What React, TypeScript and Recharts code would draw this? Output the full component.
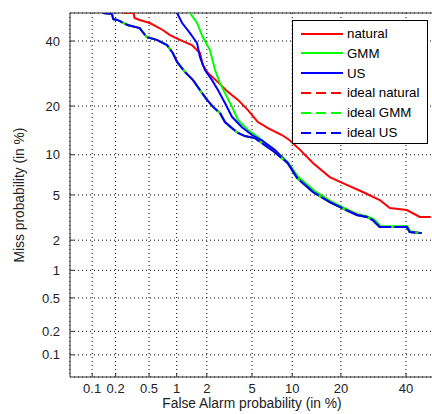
import { LineChart, Line, XAxis, YAxis, CartesianGrid, Legend, ReferenceLine } from 'recharts';

// tick positions (in %) on both axes
const tickPercents = [0.1, 0.2, 0.5, 1, 2, 5, 10, 20, 40];

// natural
const naturalFa = [0.25, 0.33, 0.34, 0.39, 0.51, 0.71, 0.85, 1.08, 1.43, 1.72, 1.83, 2.05, 2.54, 3.12, 3.82, 4.63, 5.57, 6.67, 8.46, 9.6, 11.3, 13.7, 17.3, 20.5, 26.0, 31.2, 34.5, 40.3, 44.9, 48.8];
const naturalMiss = [50, 50, 48.2, 47.5, 46.4, 43.9, 42.1, 40.4, 38.6, 35.9, 31.9, 29.4, 26.6, 23.8, 21.6, 19.0, 16.2, 14.9, 13.5, 12.5, 10.8, 8.75, 6.9, 6.2, 5.28, 4.54, 3.9, 3.74, 3.26, 3.26];

// GMM
const gmmFa = [1.37, 1.61, 1.83, 2.14, 2.39, 2.65, 2.94, 3.39, 3.82, 4.63, 5.57, 6.67, 7.9, 9.3, 11.0, 14.0, 17.5, 20.5, 24.5, 27.5, 29.5, 31.5, 40.5, 41.5, 45.6];
const gmmMiss = [50, 46.4, 41.4, 36.9, 30.3, 26.3, 23.5, 19.8, 16.7, 14.5, 13.1, 11.6, 10.3, 8.9, 6.9, 5.4, 4.45, 3.95, 3.45, 3.3, 3.1, 2.7, 2.7, 2.42, 2.33];

// US
const usFa = [1.01, 1.14, 1.37, 1.61, 1.72, 1.92, 2.24, 2.54, 2.94, 3.39, 4.13, 4.99, 5.98, 7.5, 9.3, 10.8, 13.7, 17.3, 20.2, 24.3, 27.2, 29.0, 31.2, 40.3, 41.3, 45.6];
const usMiss = [50, 46.4, 42.8, 39.3, 34.5, 30.3, 27.2, 24.3, 20.8, 17.4, 15.1, 13.5, 12.5, 10.8, 8.75, 6.79, 5.28, 4.37, 3.9, 3.39, 3.26, 3.06, 2.65, 2.65, 2.39, 2.33];

// ideal (natural / GMM / US lie on top of each other)
const idealFa = [0.139, 0.18, 0.187, 0.21, 0.28, 0.39, 0.47, 0.61, 0.79, 0.91, 1.01, 1.22, 1.47, 1.72, 2.01, 2.29, 2.65, 2.94, 3.39, 3.82, 4.37, 5.27, 5.98, 7.5, 9.3, 10.8, 13.7, 17.3, 20.2, 24.3, 27.2, 29.0, 31.2, 40.3, 41.3, 45.6];
const idealMiss = [50, 49.6, 47.8, 47.5, 45.7, 44.6, 41.4, 40.4, 38.6, 35.9, 32.9, 29.7, 27.2, 24.3, 21.6, 19.8, 18.3, 16.2, 14.9, 13.9, 13.3, 12.9, 12.0, 10.4, 8.75, 6.79, 5.28, 4.37, 3.9, 3.39, 3.26, 3.06, 2.65, 2.65, 2.39, 2.33];

// inverse normal CDF (Acklam) -> DET axes use normal deviate scale
function probit(p: number): number {
  const a = [-3.969683028665376e1, 2.209460984245205e2, -2.759285104469687e2, 1.38357751867269e2, -3.066479806614716e1, 2.506628277459239];
  const b = [-5.447609879822406e1, 1.615858368580409e2, -1.556989798598866e2, 6.680131188771972e1, -1.328068155288572e1];
  const c = [-7.784894002430293e-3, -3.223964580411365e-1, -2.400758277161838, -2.549732539343734, 4.374664141464968, 2.938163982698783];
  const d = [7.784695709041462e-3, 3.224671290700398e-1, 2.445134137142996, 3.754408661907416];
  const pl = 0.02425;
  if (p < pl) {
    const q = Math.sqrt(-2 * Math.log(p));
    return (((((c[0] * q + c[1]) * q + c[2]) * q + c[3]) * q + c[4]) * q + c[5]) / ((((d[0] * q + d[1]) * q + d[2]) * q + d[3]) * q + 1);
  }
  if (p <= 1 - pl) {
    const q = p - 0.5;
    const r = q * q;
    return ((((((a[0] * r + a[1]) * r + a[2]) * r + a[3]) * r + a[4]) * r + a[5]) * q) / (((((b[0] * r + b[1]) * r + b[2]) * r + b[3]) * r + b[4]) * r + 1);
  }
  const q = Math.sqrt(-2 * Math.log(1 - p));
  return -(((((c[0] * q + c[1]) * q + c[2]) * q + c[3]) * q + c[4]) * q + c[5]) / ((((d[0] * q + d[1]) * q + d[2]) * q + d[3]) * q + 1);
}

const dev = (pct: number) => probit(pct / 100);
const toPoints = (fa: number[], miss: number[]) => fa.map((f, i) => ({ x: dev(f), y: dev(miss[i]) }));

const ticks = tickPercents.map(dev);
const tickLabel = (v: number) => {
  const i = ticks.findIndex((t) => Math.abs(t - v) < 1e-6);
  return i >= 0 ? String(tickPercents[i]) : '';
};

const domain = [dev(0.05), 0];

const series = [
  { name: 'natural', color: '#ff0000', data: toPoints(naturalFa, naturalMiss), dashed: false, dash: undefined, offset: 0 },
  { name: 'GMM', color: '#00ff00', data: toPoints(gmmFa, gmmMiss), dashed: false, dash: undefined, offset: 0 },
  { name: 'US', color: '#0000ff', data: toPoints(usFa, usMiss), dashed: false, dash: undefined, offset: 0 },
  { name: 'ideal natural', color: '#ff0000', data: toPoints(idealFa, idealMiss), dashed: true, dash: '24 3', offset: 6 },
  { name: 'ideal GMM', color: '#00ff00', data: toPoints(idealFa, idealMiss), dashed: true, dash: '24 3', offset: 14 },
  { name: 'ideal US', color: '#0000ff', data: toPoints(idealFa, idealMiss), dashed: true, dash: '24 3', offset: 0 },
];

const font = '"Liberation Sans", Arial, Helvetica, sans-serif';

const renderLegend = () => (
  <div
    style={{
      position: 'relative',
      width: 136,
      height: 124,
      boxSizing: 'border-box',
      border: '1px solid #000',
      background: '#fff',
      fontFamily: font,
      fontSize: 13.3,
      color: '#000',
    }}
  >
    {series.map((s, i) => (
      <div key={s.name} style={{ position: 'absolute', left: 0, top: 12.5 + i * 19.8 - 9, height: 18, display: 'flex', alignItems: 'center' }}>
        <svg width={50} height={18} style={{ marginLeft: 7 }}>
          <line x1={1} y1={9} x2={43} y2={9} stroke={s.color} strokeWidth={2} strokeDasharray={s.dashed ? '10 5' : undefined} />
        </svg>
        <span style={{ marginLeft: -3, whiteSpace: 'nowrap' }}>{s.name}</span>
      </div>
    ))}
  </div>
);

export default function App() {
  return (
    <div style={{ position: 'absolute', left: 0, top: 0, width: 432, height: 414, overflow: 'hidden', background: '#fff' }}>
      <LineChart width={440} height={414} margin={{ top: 13, right: 6, left: 0, bottom: 0 }}>
        <CartesianGrid stroke="#000" strokeDasharray="1 3" />
        <XAxis
          dataKey="x"
          type="number"
          domain={domain}
          allowDataOverflow
          ticks={ticks}
          tickFormatter={tickLabel}
          interval={0}
          height={37}
          tickSize={-4}
          tickMargin={11}
          stroke="#333"
          tick={{ fill: '#222', fontSize: 13, fontFamily: font }}
          label={{ value: 'False Alarm probability (in %)', position: 'insideBottom', offset: 6, fill: '#222', fontSize: 13.8, fontFamily: font }}
        />
        <YAxis
          dataKey="y"
          type="number"
          domain={domain}
          allowDataOverflow
          ticks={ticks}
          tickFormatter={tickLabel}
          interval={0}
          width={70}
          tickSize={-4}
          tickMargin={14}
          stroke="#333"
          tick={{ fill: '#222', fontSize: 13, fontFamily: font }}
          label={{ value: 'Miss probability (in %)', angle: -90, position: 'insideLeft', offset: 19, fill: '#222', fontSize: 13.8, fontFamily: font, style: { textAnchor: 'middle' } }}
        />
        <ReferenceLine y={0} stroke="#333" />
        <ReferenceLine x={0} stroke="#333" />
        {series.map((s) => (
          <Line
            key={s.name}
            data={s.data}
            dataKey="y"
            name={s.name}
            type="linear"
            stroke={s.color}
            strokeWidth={2}
            strokeDasharray={s.dash}
            strokeDashoffset={s.offset}
            dot={false}
            activeDot={false}
            isAnimationActive={false}
          />
        ))}
        <Legend
          layout="vertical"
          align="center"
          verticalAlign="middle"
          content={renderLegend}
          wrapperStyle={{ left: 292, top: 20, width: 136, height: 124 }}
        />
      </LineChart>
    </div>
  );
}
